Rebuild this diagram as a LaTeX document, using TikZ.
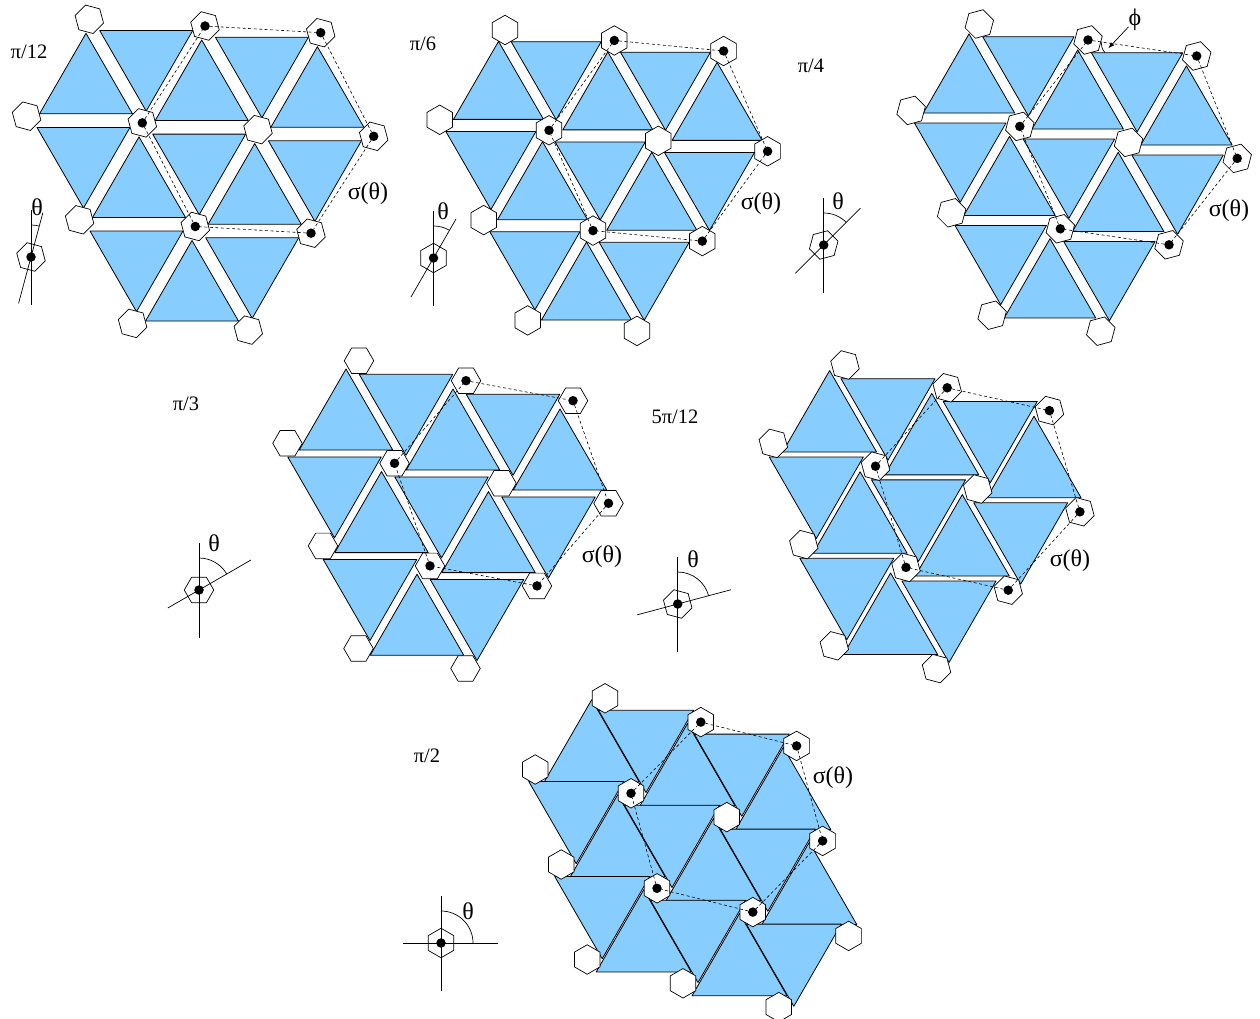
\documentclass[tikz,border=0pt]{standalone}
\usepackage{fontspec}
\setmainfont{Liberation Serif}
\usetikzlibrary{arrows.meta,calc,shapes.geometric}

\definecolor{triblue}{RGB}{135,206,255}

\tikzset{
  tri/.style={draw=black, fill=triblue, line width=0.8pt, line join=round},
  hexa/.style={draw=black, fill=white, line width=0.7pt, regular polygon, regular polygon sides=6,
    minimum size=29.5pt, inner sep=0pt, outer sep=0pt},
  dotmark/.style={circle, fill=black, minimum size=9.5pt, inner sep=0pt, outer sep=0pt},
  sigmaline/.style={line width=0.6pt, dash pattern=on 3pt off 2.5pt},
  axisline/.style={line width=0.7pt},
  lab/.style={font=\fontsize{20.5}{20.5}\selectfont, inner sep=0pt},
  symb/.style={font=\fontsize{24}{24}\selectfont, inner sep=0pt},
}

\def\hexset{0/0,1/0,2/0,-1/1,0/1,1/1,2/1,-1/2,0/2,1/2,-1/3,0/3}
\def\upset{0/0,1/0,2/0,0/1,1/1,0/2}
\def\downset{0/0,1/0,-1/1,0/1,1/1,-1/2,0/2}

% #1 hexagon turn, #2 triangle radius, #3 hexagons, #4 up, #5 down
\newcommand{\mechanism}[5]{
  \edef\hexlist{#3}
  \edef\uplist{#4}
  \edef\downlist{#5}
  \foreach \i/\j in \uplist
    \filldraw[tri] ($(u)+\i*(e)+\j*(f)+(90:#2)$) -- ($(u)+\i*(e)+\j*(f)+(210:#2)$)
      -- ($(u)+\i*(e)+\j*(f)+(330:#2)$) -- cycle;
  \foreach \i/\j in \downlist
    \filldraw[tri] ($(v)+\i*(e)+\j*(f)+(270:#2)$) -- ($(v)+\i*(e)+\j*(f)+(30:#2)$)
      -- ($(v)+\i*(e)+\j*(f)+(150:#2)$) -- cycle;
  \foreach \i/\j in \hexlist
    \node[hexa, rotate=#1] (h\i\j) at ($(o)+\i*(e)+\j*(f)$) {};
  \foreach \i/\j in {1/0,2/0,2/1,1/2,0/2,0/1}
    \node[dotmark] (d\i\j) at (h\i\j) {};
  \draw[sigmaline] (d10) -- (d20) -- (d21) -- (d12) -- (d02) -- (d01) -- (d10);
}

% #1 angle, #2 length above, #3 length below
\newcommand{\anglemark}[3]{
  \node[hexa, rotate=3*#1] (axc) at (c) {};
  \coordinate (vtop) at ($(c)+(0,47)$);
  \coordinate (vbot) at ($(c)+(0,-48)$);
  \coordinate (ttop) at ($(c)+(90-#1:#2)$);
  \coordinate (tbot) at ($(c)+(270-#1:#3)$);
  \draw[axisline] (vtop) -- (vbot);
  \draw[axisline] (ttop) -- (tbot);
  \draw[axisline] ($(c)+(0,32)$) arc[start angle=90, end angle=90-#1, radius=32];
  \node[dotmark] (axd) at (c) {};
}

\begin{document}
\begin{tikzpicture}[x=1pt, y=1pt, >=Latex]
  \useasboundingbox (0,0) rectangle (1260,-1019);

  \begin{scope}[name prefix=a-]
    \coordinate (o) at (89.3,-19.3);
    \coordinate (e) at (115.7,-6.7);
    \coordinate (f) at (53,-103.6);
    \coordinate (u) at (86,-87);
    \coordinate (v) at (146.2,-57.4);
    \coordinate (c) at (31,-257);
    \mechanism{45}{53.7}{\hexset}{\upset}{\downset}
    \anglemark{15}{46}{48}
    \node[lab] (name) at (29,-52) {π/12};
    \node[symb] (sig) at (368,-194) {σ(θ)};
    \node[symb] (tht) at (37,-207) {θ};
  \end{scope}

  \begin{scope}[name prefix=b-]
    \coordinate (o) at (505,-30);
    \coordinate (e) at (109.3,-10.5);
    \coordinate (f) at (44,-100.3);
    \coordinate (u) at (498.5,-93.4);
    \coordinate (v) at (556.2,-67.7);
    \coordinate (c) at (433.5,-258);
    \mechanism{90}{52}{\hexset}{\upset}{\downset}
    \anglemark{30}{45}{45}
    \node[lab] (name) at (423,-44) {π/6};
    \node[symb] (sig) at (761,-204) {σ(θ)};
    \node[symb] (tht) at (443,-211) {θ};
  \end{scope}

  \begin{scope}[name prefix=c-]
    \coordinate (o) at (979.3,-24);
    \coordinate (e) at (108.7,-16);
    \coordinate (f) at (40.5,-102.4);
    \coordinate (u) at (969,-86.7);
    \coordinate (v) at (1028.4,-63.1);
    \coordinate (c) at (823.7,-245);
    \mechanism{135}{52.8}{\hexset}{\upset}{\downset}
    \anglemark{45}{52}{40}
    \node[lab] (name) at (811,-66) {π/4};
    \node[symb] (sig) at (1229,-211) {σ(θ)};
    \node[symb] (tht) at (838,-201) {θ};
    % the angle between the cell edge and the triangle
    \node[symb] (phi) at (1135,-20) {ϕ};
    \coordinate (phitip) at (1108.3,-48.3);
    \coordinate (phia) at (1101.7,-41.7);
    \coordinate (phib) at (1105,-52.7);
    \draw[->, axisline] (phi) -- (phitip);
    \draw[axisline] (phia) to[bend right=25] (phib);
  \end{scope}

  \begin{scope}[name prefix=d-]
    \coordinate (o) at (359,-360.7);
    \coordinate (e) at (107,-20);
    \coordinate (f) at (35.5,-102.6);
    \coordinate (u) at (346,-423);
    \coordinate (v) at (406,-401.3);
    \coordinate (c) at (199,-590);
    \mechanism{180}{54}{\hexset}{\upset}{\downset}
    \anglemark{60}{60}{36}
    \node[lab] (name) at (186,-404) {π/3};
    \node[symb] (sig) at (602,-557) {σ(θ)};
    \node[symb] (tht) at (214,-543) {θ};
  \end{scope}

  \begin{scope}[name prefix=e-]
    \coordinate (o) at (845,-365);
    \coordinate (e) at (102.2,-22.8);
    \coordinate (f) at (30.5,-101.2);
    \coordinate (u) at (829.6,-424.9);
    \coordinate (v) at (888,-405.8);
    \coordinate (c) at (677.7,-604);
    \mechanism{225}{54.3}{\hexset}{\upset}{\downset}
    \anglemark{75}{55}{42}
    \node[lab] (name) at (675,-417) {5π/12};
    \node[symb] (sig) at (1070,-561) {σ(θ)};
    \node[symb] (tht) at (693,-559) {θ};
  \end{scope}

  \begin{scope}[name prefix=f-]
    \coordinate (o) at (605,-698.3);
    \coordinate (e) at (95.8,-23.8);
    \coordinate (f) at (26,-95);
    \coordinate (u) at (591.7,-754.5);
    \coordinate (v) at (646,-737.7);
    \coordinate (c) at (441,-943);
    \mechanism{270}{54.8}{\hexset,2/2,1/3}{\upset,2/1,1/2}{\downset,1/2}
    \anglemark{90}{57}{38}
    \node[lab] (name) at (427,-756) {π/2};
    \node[symb] (sig) at (833,-778) {σ(θ)};
    \node[symb] (tht) at (468,-911) {θ};
  \end{scope}
\end{tikzpicture}
\end{document}
